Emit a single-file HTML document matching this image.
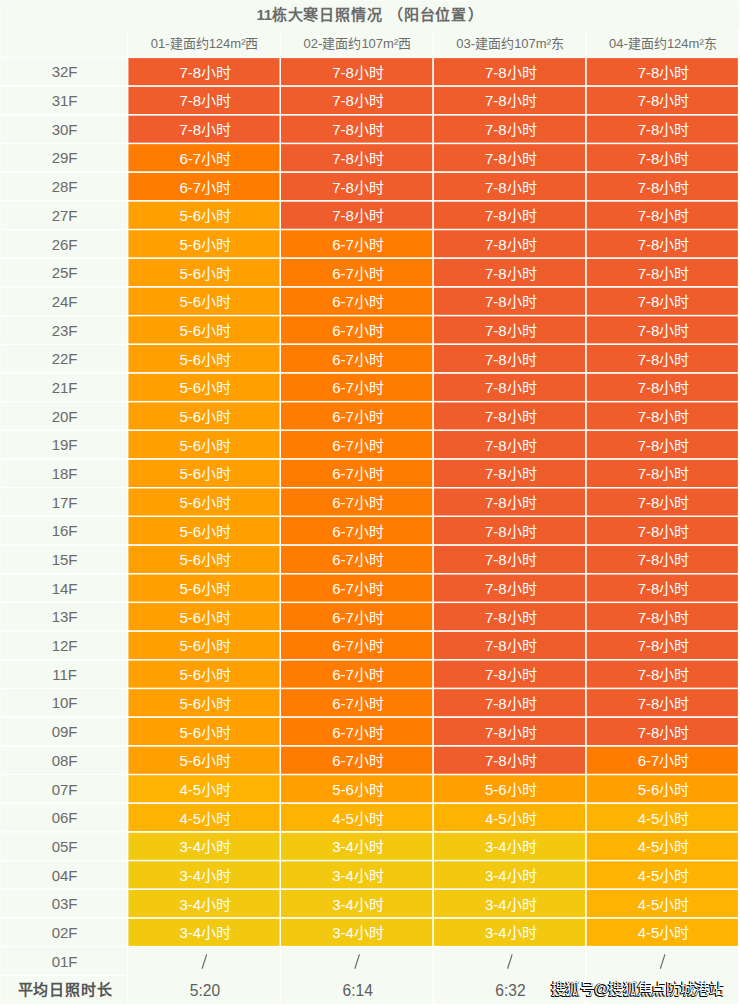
<!DOCTYPE html>
<html lang="zh-CN"><head><meta charset="utf-8"><style>
html,body{margin:0;padding:0;}
body{width:740px;height:1005px;position:relative;overflow:hidden;background:#f5faf2;font-family:"Liberation Sans",sans-serif;}
svg{position:absolute;left:0;top:0;}
div{position:absolute;text-align:center;white-space:nowrap;}
.ti{font-size:15px;font-weight:bold;color:#6a6a6a;letter-spacing:0.8px;}
.hd{font-size:13px;color:#6e6e6e;}
.lb{font-size:15px;color:#6a6a6a;}
.sl{font-size:20px;color:#666;}
.ag{font-size:15.6px;color:#5e5e5e;}
.dc{font-size:15px;color:#fff;}
.av{font-size:15px;font-weight:bold;color:#555;letter-spacing:0.8px;}
.wm{font-size:15px;color:#fff;text-shadow:-1px 1px 0 #000,-1px 0 0 #000,0 1px 0 #000;letter-spacing:-0.7px;}
</style></head><body>
<svg width="740" height="1005" viewBox="0 0 740 1005"><rect x="0" y="0" width="740" height="1005" fill="#f5faf2"/><rect x="128.25" y="58.05" width="151.45" height="27.38" fill="#f05d2d"/><rect x="281.00" y="58.05" width="151.45" height="27.38" fill="#f05d2d"/><rect x="433.75" y="58.05" width="151.45" height="27.38" fill="#f05d2d"/><rect x="586.50" y="58.05" width="151.45" height="27.38" fill="#f05d2d"/><rect x="128.25" y="86.73" width="151.45" height="27.38" fill="#f05d2d"/><rect x="281.00" y="86.73" width="151.45" height="27.38" fill="#f05d2d"/><rect x="433.75" y="86.73" width="151.45" height="27.38" fill="#f05d2d"/><rect x="586.50" y="86.73" width="151.45" height="27.38" fill="#f05d2d"/><rect x="128.25" y="115.42" width="151.45" height="27.38" fill="#f05d2d"/><rect x="281.00" y="115.42" width="151.45" height="27.38" fill="#f05d2d"/><rect x="433.75" y="115.42" width="151.45" height="27.38" fill="#f05d2d"/><rect x="586.50" y="115.42" width="151.45" height="27.38" fill="#f05d2d"/><rect x="128.25" y="144.10" width="151.45" height="27.38" fill="#ff7c00"/><rect x="281.00" y="144.10" width="151.45" height="27.38" fill="#f05d2d"/><rect x="433.75" y="144.10" width="151.45" height="27.38" fill="#f05d2d"/><rect x="586.50" y="144.10" width="151.45" height="27.38" fill="#f05d2d"/><rect x="128.25" y="172.79" width="151.45" height="27.38" fill="#ff7c00"/><rect x="281.00" y="172.79" width="151.45" height="27.38" fill="#f05d2d"/><rect x="433.75" y="172.79" width="151.45" height="27.38" fill="#f05d2d"/><rect x="586.50" y="172.79" width="151.45" height="27.38" fill="#f05d2d"/><rect x="128.25" y="201.47" width="151.45" height="27.38" fill="#ff9f00"/><rect x="281.00" y="201.47" width="151.45" height="27.38" fill="#f05d2d"/><rect x="433.75" y="201.47" width="151.45" height="27.38" fill="#f05d2d"/><rect x="586.50" y="201.47" width="151.45" height="27.38" fill="#f05d2d"/><rect x="128.25" y="230.15" width="151.45" height="27.38" fill="#ff9f00"/><rect x="281.00" y="230.15" width="151.45" height="27.38" fill="#ff7c00"/><rect x="433.75" y="230.15" width="151.45" height="27.38" fill="#f05d2d"/><rect x="586.50" y="230.15" width="151.45" height="27.38" fill="#f05d2d"/><rect x="128.25" y="258.84" width="151.45" height="27.38" fill="#ff9f00"/><rect x="281.00" y="258.84" width="151.45" height="27.38" fill="#ff7c00"/><rect x="433.75" y="258.84" width="151.45" height="27.38" fill="#f05d2d"/><rect x="586.50" y="258.84" width="151.45" height="27.38" fill="#f05d2d"/><rect x="128.25" y="287.52" width="151.45" height="27.38" fill="#ff9f00"/><rect x="281.00" y="287.52" width="151.45" height="27.38" fill="#ff7c00"/><rect x="433.75" y="287.52" width="151.45" height="27.38" fill="#f05d2d"/><rect x="586.50" y="287.52" width="151.45" height="27.38" fill="#f05d2d"/><rect x="128.25" y="316.21" width="151.45" height="27.38" fill="#ff9f00"/><rect x="281.00" y="316.21" width="151.45" height="27.38" fill="#ff7c00"/><rect x="433.75" y="316.21" width="151.45" height="27.38" fill="#f05d2d"/><rect x="586.50" y="316.21" width="151.45" height="27.38" fill="#f05d2d"/><rect x="128.25" y="344.89" width="151.45" height="27.38" fill="#ff9f00"/><rect x="281.00" y="344.89" width="151.45" height="27.38" fill="#ff7c00"/><rect x="433.75" y="344.89" width="151.45" height="27.38" fill="#f05d2d"/><rect x="586.50" y="344.89" width="151.45" height="27.38" fill="#f05d2d"/><rect x="128.25" y="373.57" width="151.45" height="27.38" fill="#ff9f00"/><rect x="281.00" y="373.57" width="151.45" height="27.38" fill="#ff7c00"/><rect x="433.75" y="373.57" width="151.45" height="27.38" fill="#f05d2d"/><rect x="586.50" y="373.57" width="151.45" height="27.38" fill="#f05d2d"/><rect x="128.25" y="402.26" width="151.45" height="27.38" fill="#ff9f00"/><rect x="281.00" y="402.26" width="151.45" height="27.38" fill="#ff7c00"/><rect x="433.75" y="402.26" width="151.45" height="27.38" fill="#f05d2d"/><rect x="586.50" y="402.26" width="151.45" height="27.38" fill="#f05d2d"/><rect x="128.25" y="430.94" width="151.45" height="27.38" fill="#ff9f00"/><rect x="281.00" y="430.94" width="151.45" height="27.38" fill="#ff7c00"/><rect x="433.75" y="430.94" width="151.45" height="27.38" fill="#f05d2d"/><rect x="586.50" y="430.94" width="151.45" height="27.38" fill="#f05d2d"/><rect x="128.25" y="459.63" width="151.45" height="27.38" fill="#ff9f00"/><rect x="281.00" y="459.63" width="151.45" height="27.38" fill="#ff7c00"/><rect x="433.75" y="459.63" width="151.45" height="27.38" fill="#f05d2d"/><rect x="586.50" y="459.63" width="151.45" height="27.38" fill="#f05d2d"/><rect x="128.25" y="488.31" width="151.45" height="27.38" fill="#ff9f00"/><rect x="281.00" y="488.31" width="151.45" height="27.38" fill="#ff7c00"/><rect x="433.75" y="488.31" width="151.45" height="27.38" fill="#f05d2d"/><rect x="586.50" y="488.31" width="151.45" height="27.38" fill="#f05d2d"/><rect x="128.25" y="516.99" width="151.45" height="27.38" fill="#ff9f00"/><rect x="281.00" y="516.99" width="151.45" height="27.38" fill="#ff7c00"/><rect x="433.75" y="516.99" width="151.45" height="27.38" fill="#f05d2d"/><rect x="586.50" y="516.99" width="151.45" height="27.38" fill="#f05d2d"/><rect x="128.25" y="545.68" width="151.45" height="27.38" fill="#ff9f00"/><rect x="281.00" y="545.68" width="151.45" height="27.38" fill="#ff7c00"/><rect x="433.75" y="545.68" width="151.45" height="27.38" fill="#f05d2d"/><rect x="586.50" y="545.68" width="151.45" height="27.38" fill="#f05d2d"/><rect x="128.25" y="574.36" width="151.45" height="27.38" fill="#ff9f00"/><rect x="281.00" y="574.36" width="151.45" height="27.38" fill="#ff7c00"/><rect x="433.75" y="574.36" width="151.45" height="27.38" fill="#f05d2d"/><rect x="586.50" y="574.36" width="151.45" height="27.38" fill="#f05d2d"/><rect x="128.25" y="603.05" width="151.45" height="27.38" fill="#ff9f00"/><rect x="281.00" y="603.05" width="151.45" height="27.38" fill="#ff7c00"/><rect x="433.75" y="603.05" width="151.45" height="27.38" fill="#f05d2d"/><rect x="586.50" y="603.05" width="151.45" height="27.38" fill="#f05d2d"/><rect x="128.25" y="631.73" width="151.45" height="27.38" fill="#ff9f00"/><rect x="281.00" y="631.73" width="151.45" height="27.38" fill="#ff7c00"/><rect x="433.75" y="631.73" width="151.45" height="27.38" fill="#f05d2d"/><rect x="586.50" y="631.73" width="151.45" height="27.38" fill="#f05d2d"/><rect x="128.25" y="660.41" width="151.45" height="27.38" fill="#ff9f00"/><rect x="281.00" y="660.41" width="151.45" height="27.38" fill="#ff7c00"/><rect x="433.75" y="660.41" width="151.45" height="27.38" fill="#f05d2d"/><rect x="586.50" y="660.41" width="151.45" height="27.38" fill="#f05d2d"/><rect x="128.25" y="689.10" width="151.45" height="27.38" fill="#ff9f00"/><rect x="281.00" y="689.10" width="151.45" height="27.38" fill="#ff7c00"/><rect x="433.75" y="689.10" width="151.45" height="27.38" fill="#f05d2d"/><rect x="586.50" y="689.10" width="151.45" height="27.38" fill="#f05d2d"/><rect x="128.25" y="717.78" width="151.45" height="27.38" fill="#ff9f00"/><rect x="281.00" y="717.78" width="151.45" height="27.38" fill="#ff7c00"/><rect x="433.75" y="717.78" width="151.45" height="27.38" fill="#f05d2d"/><rect x="586.50" y="717.78" width="151.45" height="27.38" fill="#f05d2d"/><rect x="128.25" y="746.47" width="151.45" height="27.38" fill="#ff9f00"/><rect x="281.00" y="746.47" width="151.45" height="27.38" fill="#ff7c00"/><rect x="433.75" y="746.47" width="151.45" height="27.38" fill="#f05d2d"/><rect x="586.50" y="746.47" width="151.45" height="27.38" fill="#ff7c00"/><rect x="128.25" y="775.15" width="151.45" height="27.38" fill="#feb300"/><rect x="281.00" y="775.15" width="151.45" height="27.38" fill="#ff9f00"/><rect x="433.75" y="775.15" width="151.45" height="27.38" fill="#ff9f00"/><rect x="586.50" y="775.15" width="151.45" height="27.38" fill="#ff9f00"/><rect x="128.25" y="803.83" width="151.45" height="27.38" fill="#feb300"/><rect x="281.00" y="803.83" width="151.45" height="27.38" fill="#feb300"/><rect x="433.75" y="803.83" width="151.45" height="27.38" fill="#feb300"/><rect x="586.50" y="803.83" width="151.45" height="27.38" fill="#feb300"/><rect x="128.25" y="832.52" width="151.45" height="27.38" fill="#f2c910"/><rect x="281.00" y="832.52" width="151.45" height="27.38" fill="#f2c910"/><rect x="433.75" y="832.52" width="151.45" height="27.38" fill="#f2c910"/><rect x="586.50" y="832.52" width="151.45" height="27.38" fill="#feb300"/><rect x="128.25" y="861.20" width="151.45" height="27.38" fill="#f2c910"/><rect x="281.00" y="861.20" width="151.45" height="27.38" fill="#f2c910"/><rect x="433.75" y="861.20" width="151.45" height="27.38" fill="#f2c910"/><rect x="586.50" y="861.20" width="151.45" height="27.38" fill="#feb300"/><rect x="128.25" y="889.89" width="151.45" height="27.38" fill="#f2c910"/><rect x="281.00" y="889.89" width="151.45" height="27.38" fill="#f2c910"/><rect x="433.75" y="889.89" width="151.45" height="27.38" fill="#f2c910"/><rect x="586.50" y="889.89" width="151.45" height="27.38" fill="#feb300"/><rect x="128.25" y="918.57" width="151.45" height="27.38" fill="#f2c910"/><rect x="281.00" y="918.57" width="151.45" height="27.38" fill="#f2c910"/><rect x="433.75" y="918.57" width="151.45" height="27.38" fill="#f2c910"/><rect x="586.50" y="918.57" width="151.45" height="27.38" fill="#feb300"/><rect x="0" y="56.75" width="740" height="1.3" fill="#ffffff"/><rect x="0" y="85.43" width="740" height="1.3" fill="#ffffff"/><rect x="0" y="114.12" width="740" height="1.3" fill="#ffffff"/><rect x="0" y="142.80" width="740" height="1.3" fill="#ffffff"/><rect x="0" y="171.49" width="740" height="1.3" fill="#ffffff"/><rect x="0" y="200.17" width="740" height="1.3" fill="#ffffff"/><rect x="0" y="228.85" width="740" height="1.3" fill="#ffffff"/><rect x="0" y="257.54" width="740" height="1.3" fill="#ffffff"/><rect x="0" y="286.22" width="740" height="1.3" fill="#ffffff"/><rect x="0" y="314.91" width="740" height="1.3" fill="#ffffff"/><rect x="0" y="343.59" width="740" height="1.3" fill="#ffffff"/><rect x="0" y="372.27" width="740" height="1.3" fill="#ffffff"/><rect x="0" y="400.96" width="740" height="1.3" fill="#ffffff"/><rect x="0" y="429.64" width="740" height="1.3" fill="#ffffff"/><rect x="0" y="458.33" width="740" height="1.3" fill="#ffffff"/><rect x="0" y="487.01" width="740" height="1.3" fill="#ffffff"/><rect x="0" y="515.69" width="740" height="1.3" fill="#ffffff"/><rect x="0" y="544.38" width="740" height="1.3" fill="#ffffff"/><rect x="0" y="573.06" width="740" height="1.3" fill="#ffffff"/><rect x="0" y="601.75" width="740" height="1.3" fill="#ffffff"/><rect x="0" y="630.43" width="740" height="1.3" fill="#ffffff"/><rect x="0" y="659.11" width="740" height="1.3" fill="#ffffff"/><rect x="0" y="687.80" width="740" height="1.3" fill="#ffffff"/><rect x="0" y="716.48" width="740" height="1.3" fill="#ffffff"/><rect x="0" y="745.17" width="740" height="1.3" fill="#ffffff"/><rect x="0" y="773.85" width="740" height="1.3" fill="#ffffff"/><rect x="0" y="802.53" width="740" height="1.3" fill="#ffffff"/><rect x="0" y="831.22" width="740" height="1.3" fill="#ffffff"/><rect x="0" y="859.90" width="740" height="1.3" fill="#ffffff"/><rect x="0" y="888.59" width="740" height="1.3" fill="#ffffff"/><rect x="0" y="917.27" width="740" height="1.3" fill="#ffffff"/><rect x="0" y="945.95" width="740" height="1.3" fill="#ffffff"/><rect x="0" y="974.64" width="127.60" height="1.3" fill="#ffffff"/><rect x="737.95" y="28.8" width="3" height="980" fill="#ffffff"/><rect x="738.6" y="0" width="2" height="29" fill="#fbfdfa"/><rect x="0" y="0" width="0.8" height="1005" fill="#fbfdfa"/><rect x="0" y="0" width="740" height="0.8" fill="#fbfdfa"/><rect x="0" y="1003.6" width="740" height="1.3" fill="#ffffff"/><rect x="126.95" y="28.8" width="1.3" height="976.20" fill="#ffffff"/><rect x="279.70" y="28.8" width="1.3" height="976.20" fill="#ffffff"/><rect x="432.45" y="28.8" width="1.3" height="976.20" fill="#ffffff"/><rect x="585.20" y="28.8" width="1.3" height="976.20" fill="#ffffff"/><rect x="737.95" y="28.8" width="1.3" height="976.20" fill="#ffffff"/><line x1="206.68" y1="954.4" x2="202.08" y2="968.7" stroke="#666" stroke-width="1.15"/><line x1="359.43" y1="954.4" x2="354.82" y2="968.7" stroke="#666" stroke-width="1.15"/><line x1="512.17" y1="954.4" x2="507.57" y2="968.7" stroke="#666" stroke-width="1.15"/><line x1="664.92" y1="954.4" x2="660.33" y2="968.7" stroke="#666" stroke-width="1.15"/></svg>
<div class="ti" style="left:0.40px;top:0.90px;width:740.00px;height:28.80px;line-height:28.80px"><span style="letter-spacing:-0.3px">11</span>栋大寒日照情况<span style="letter-spacing:1.4px"> </span>（阳台位<span style="letter-spacing:2.2px">置</span>）</div><div class="hd" style="left:128.30px;top:29.50px;width:152.75px;height:28.60px;line-height:28.60px">01-建面约124m²西</div><div class="hd" style="left:281.05px;top:29.50px;width:152.75px;height:28.60px;line-height:28.60px">02-建面约107m²西</div><div class="hd" style="left:433.80px;top:29.50px;width:152.75px;height:28.60px;line-height:28.60px">03-建面约107m²东</div><div class="hd" style="left:586.55px;top:29.50px;width:152.75px;height:28.60px;line-height:28.60px">04-建面约124m²东</div><div class="lb" style="left:0.80px;top:58.40px;width:127.60px;height:28.68px;line-height:28.68px">32F</div><div class="dc" style="left:128.90px;top:58.80px;width:152.75px;height:28.68px;line-height:28.68px">7-8小时</div><div class="dc" style="left:281.65px;top:58.80px;width:152.75px;height:28.68px;line-height:28.68px">7-8小时</div><div class="dc" style="left:434.40px;top:58.80px;width:152.75px;height:28.68px;line-height:28.68px">7-8小时</div><div class="dc" style="left:587.15px;top:58.80px;width:152.75px;height:28.68px;line-height:28.68px">7-8小时</div><div class="lb" style="left:0.80px;top:87.08px;width:127.60px;height:28.68px;line-height:28.68px">31F</div><div class="dc" style="left:128.90px;top:87.48px;width:152.75px;height:28.68px;line-height:28.68px">7-8小时</div><div class="dc" style="left:281.65px;top:87.48px;width:152.75px;height:28.68px;line-height:28.68px">7-8小时</div><div class="dc" style="left:434.40px;top:87.48px;width:152.75px;height:28.68px;line-height:28.68px">7-8小时</div><div class="dc" style="left:587.15px;top:87.48px;width:152.75px;height:28.68px;line-height:28.68px">7-8小时</div><div class="lb" style="left:0.80px;top:115.77px;width:127.60px;height:28.68px;line-height:28.68px">30F</div><div class="dc" style="left:128.90px;top:116.17px;width:152.75px;height:28.68px;line-height:28.68px">7-8小时</div><div class="dc" style="left:281.65px;top:116.17px;width:152.75px;height:28.68px;line-height:28.68px">7-8小时</div><div class="dc" style="left:434.40px;top:116.17px;width:152.75px;height:28.68px;line-height:28.68px">7-8小时</div><div class="dc" style="left:587.15px;top:116.17px;width:152.75px;height:28.68px;line-height:28.68px">7-8小时</div><div class="lb" style="left:0.80px;top:144.45px;width:127.60px;height:28.68px;line-height:28.68px">29F</div><div class="dc" style="left:128.90px;top:144.85px;width:152.75px;height:28.68px;line-height:28.68px">6-7小时</div><div class="dc" style="left:281.65px;top:144.85px;width:152.75px;height:28.68px;line-height:28.68px">7-8小时</div><div class="dc" style="left:434.40px;top:144.85px;width:152.75px;height:28.68px;line-height:28.68px">7-8小时</div><div class="dc" style="left:587.15px;top:144.85px;width:152.75px;height:28.68px;line-height:28.68px">7-8小时</div><div class="lb" style="left:0.80px;top:173.14px;width:127.60px;height:28.68px;line-height:28.68px">28F</div><div class="dc" style="left:128.90px;top:173.54px;width:152.75px;height:28.68px;line-height:28.68px">6-7小时</div><div class="dc" style="left:281.65px;top:173.54px;width:152.75px;height:28.68px;line-height:28.68px">7-8小时</div><div class="dc" style="left:434.40px;top:173.54px;width:152.75px;height:28.68px;line-height:28.68px">7-8小时</div><div class="dc" style="left:587.15px;top:173.54px;width:152.75px;height:28.68px;line-height:28.68px">7-8小时</div><div class="lb" style="left:0.80px;top:201.82px;width:127.60px;height:28.68px;line-height:28.68px">27F</div><div class="dc" style="left:128.90px;top:202.22px;width:152.75px;height:28.68px;line-height:28.68px">5-6小时</div><div class="dc" style="left:281.65px;top:202.22px;width:152.75px;height:28.68px;line-height:28.68px">7-8小时</div><div class="dc" style="left:434.40px;top:202.22px;width:152.75px;height:28.68px;line-height:28.68px">7-8小时</div><div class="dc" style="left:587.15px;top:202.22px;width:152.75px;height:28.68px;line-height:28.68px">7-8小时</div><div class="lb" style="left:0.80px;top:230.50px;width:127.60px;height:28.68px;line-height:28.68px">26F</div><div class="dc" style="left:128.90px;top:230.90px;width:152.75px;height:28.68px;line-height:28.68px">5-6小时</div><div class="dc" style="left:281.65px;top:230.90px;width:152.75px;height:28.68px;line-height:28.68px">6-7小时</div><div class="dc" style="left:434.40px;top:230.90px;width:152.75px;height:28.68px;line-height:28.68px">7-8小时</div><div class="dc" style="left:587.15px;top:230.90px;width:152.75px;height:28.68px;line-height:28.68px">7-8小时</div><div class="lb" style="left:0.80px;top:259.19px;width:127.60px;height:28.68px;line-height:28.68px">25F</div><div class="dc" style="left:128.90px;top:259.59px;width:152.75px;height:28.68px;line-height:28.68px">5-6小时</div><div class="dc" style="left:281.65px;top:259.59px;width:152.75px;height:28.68px;line-height:28.68px">6-7小时</div><div class="dc" style="left:434.40px;top:259.59px;width:152.75px;height:28.68px;line-height:28.68px">7-8小时</div><div class="dc" style="left:587.15px;top:259.59px;width:152.75px;height:28.68px;line-height:28.68px">7-8小时</div><div class="lb" style="left:0.80px;top:287.87px;width:127.60px;height:28.68px;line-height:28.68px">24F</div><div class="dc" style="left:128.90px;top:288.27px;width:152.75px;height:28.68px;line-height:28.68px">5-6小时</div><div class="dc" style="left:281.65px;top:288.27px;width:152.75px;height:28.68px;line-height:28.68px">6-7小时</div><div class="dc" style="left:434.40px;top:288.27px;width:152.75px;height:28.68px;line-height:28.68px">7-8小时</div><div class="dc" style="left:587.15px;top:288.27px;width:152.75px;height:28.68px;line-height:28.68px">7-8小时</div><div class="lb" style="left:0.80px;top:316.56px;width:127.60px;height:28.68px;line-height:28.68px">23F</div><div class="dc" style="left:128.90px;top:316.96px;width:152.75px;height:28.68px;line-height:28.68px">5-6小时</div><div class="dc" style="left:281.65px;top:316.96px;width:152.75px;height:28.68px;line-height:28.68px">6-7小时</div><div class="dc" style="left:434.40px;top:316.96px;width:152.75px;height:28.68px;line-height:28.68px">7-8小时</div><div class="dc" style="left:587.15px;top:316.96px;width:152.75px;height:28.68px;line-height:28.68px">7-8小时</div><div class="lb" style="left:0.80px;top:345.24px;width:127.60px;height:28.68px;line-height:28.68px">22F</div><div class="dc" style="left:128.90px;top:345.64px;width:152.75px;height:28.68px;line-height:28.68px">5-6小时</div><div class="dc" style="left:281.65px;top:345.64px;width:152.75px;height:28.68px;line-height:28.68px">6-7小时</div><div class="dc" style="left:434.40px;top:345.64px;width:152.75px;height:28.68px;line-height:28.68px">7-8小时</div><div class="dc" style="left:587.15px;top:345.64px;width:152.75px;height:28.68px;line-height:28.68px">7-8小时</div><div class="lb" style="left:0.80px;top:373.92px;width:127.60px;height:28.68px;line-height:28.68px">21F</div><div class="dc" style="left:128.90px;top:374.32px;width:152.75px;height:28.68px;line-height:28.68px">5-6小时</div><div class="dc" style="left:281.65px;top:374.32px;width:152.75px;height:28.68px;line-height:28.68px">6-7小时</div><div class="dc" style="left:434.40px;top:374.32px;width:152.75px;height:28.68px;line-height:28.68px">7-8小时</div><div class="dc" style="left:587.15px;top:374.32px;width:152.75px;height:28.68px;line-height:28.68px">7-8小时</div><div class="lb" style="left:0.80px;top:402.61px;width:127.60px;height:28.68px;line-height:28.68px">20F</div><div class="dc" style="left:128.90px;top:403.01px;width:152.75px;height:28.68px;line-height:28.68px">5-6小时</div><div class="dc" style="left:281.65px;top:403.01px;width:152.75px;height:28.68px;line-height:28.68px">6-7小时</div><div class="dc" style="left:434.40px;top:403.01px;width:152.75px;height:28.68px;line-height:28.68px">7-8小时</div><div class="dc" style="left:587.15px;top:403.01px;width:152.75px;height:28.68px;line-height:28.68px">7-8小时</div><div class="lb" style="left:0.80px;top:431.29px;width:127.60px;height:28.68px;line-height:28.68px">19F</div><div class="dc" style="left:128.90px;top:431.69px;width:152.75px;height:28.68px;line-height:28.68px">5-6小时</div><div class="dc" style="left:281.65px;top:431.69px;width:152.75px;height:28.68px;line-height:28.68px">6-7小时</div><div class="dc" style="left:434.40px;top:431.69px;width:152.75px;height:28.68px;line-height:28.68px">7-8小时</div><div class="dc" style="left:587.15px;top:431.69px;width:152.75px;height:28.68px;line-height:28.68px">7-8小时</div><div class="lb" style="left:0.80px;top:459.98px;width:127.60px;height:28.68px;line-height:28.68px">18F</div><div class="dc" style="left:128.90px;top:460.38px;width:152.75px;height:28.68px;line-height:28.68px">5-6小时</div><div class="dc" style="left:281.65px;top:460.38px;width:152.75px;height:28.68px;line-height:28.68px">6-7小时</div><div class="dc" style="left:434.40px;top:460.38px;width:152.75px;height:28.68px;line-height:28.68px">7-8小时</div><div class="dc" style="left:587.15px;top:460.38px;width:152.75px;height:28.68px;line-height:28.68px">7-8小时</div><div class="lb" style="left:0.80px;top:488.66px;width:127.60px;height:28.68px;line-height:28.68px">17F</div><div class="dc" style="left:128.90px;top:489.06px;width:152.75px;height:28.68px;line-height:28.68px">5-6小时</div><div class="dc" style="left:281.65px;top:489.06px;width:152.75px;height:28.68px;line-height:28.68px">6-7小时</div><div class="dc" style="left:434.40px;top:489.06px;width:152.75px;height:28.68px;line-height:28.68px">7-8小时</div><div class="dc" style="left:587.15px;top:489.06px;width:152.75px;height:28.68px;line-height:28.68px">7-8小时</div><div class="lb" style="left:0.80px;top:517.34px;width:127.60px;height:28.68px;line-height:28.68px">16F</div><div class="dc" style="left:128.90px;top:517.74px;width:152.75px;height:28.68px;line-height:28.68px">5-6小时</div><div class="dc" style="left:281.65px;top:517.74px;width:152.75px;height:28.68px;line-height:28.68px">6-7小时</div><div class="dc" style="left:434.40px;top:517.74px;width:152.75px;height:28.68px;line-height:28.68px">7-8小时</div><div class="dc" style="left:587.15px;top:517.74px;width:152.75px;height:28.68px;line-height:28.68px">7-8小时</div><div class="lb" style="left:0.80px;top:546.03px;width:127.60px;height:28.68px;line-height:28.68px">15F</div><div class="dc" style="left:128.90px;top:546.43px;width:152.75px;height:28.68px;line-height:28.68px">5-6小时</div><div class="dc" style="left:281.65px;top:546.43px;width:152.75px;height:28.68px;line-height:28.68px">6-7小时</div><div class="dc" style="left:434.40px;top:546.43px;width:152.75px;height:28.68px;line-height:28.68px">7-8小时</div><div class="dc" style="left:587.15px;top:546.43px;width:152.75px;height:28.68px;line-height:28.68px">7-8小时</div><div class="lb" style="left:0.80px;top:574.71px;width:127.60px;height:28.68px;line-height:28.68px">14F</div><div class="dc" style="left:128.90px;top:575.11px;width:152.75px;height:28.68px;line-height:28.68px">5-6小时</div><div class="dc" style="left:281.65px;top:575.11px;width:152.75px;height:28.68px;line-height:28.68px">6-7小时</div><div class="dc" style="left:434.40px;top:575.11px;width:152.75px;height:28.68px;line-height:28.68px">7-8小时</div><div class="dc" style="left:587.15px;top:575.11px;width:152.75px;height:28.68px;line-height:28.68px">7-8小时</div><div class="lb" style="left:0.80px;top:603.40px;width:127.60px;height:28.68px;line-height:28.68px">13F</div><div class="dc" style="left:128.90px;top:603.80px;width:152.75px;height:28.68px;line-height:28.68px">5-6小时</div><div class="dc" style="left:281.65px;top:603.80px;width:152.75px;height:28.68px;line-height:28.68px">6-7小时</div><div class="dc" style="left:434.40px;top:603.80px;width:152.75px;height:28.68px;line-height:28.68px">7-8小时</div><div class="dc" style="left:587.15px;top:603.80px;width:152.75px;height:28.68px;line-height:28.68px">7-8小时</div><div class="lb" style="left:0.80px;top:632.08px;width:127.60px;height:28.68px;line-height:28.68px">12F</div><div class="dc" style="left:128.90px;top:632.48px;width:152.75px;height:28.68px;line-height:28.68px">5-6小时</div><div class="dc" style="left:281.65px;top:632.48px;width:152.75px;height:28.68px;line-height:28.68px">6-7小时</div><div class="dc" style="left:434.40px;top:632.48px;width:152.75px;height:28.68px;line-height:28.68px">7-8小时</div><div class="dc" style="left:587.15px;top:632.48px;width:152.75px;height:28.68px;line-height:28.68px">7-8小时</div><div class="lb" style="left:0.80px;top:660.76px;width:127.60px;height:28.68px;line-height:28.68px">11F</div><div class="dc" style="left:128.90px;top:661.16px;width:152.75px;height:28.68px;line-height:28.68px">5-6小时</div><div class="dc" style="left:281.65px;top:661.16px;width:152.75px;height:28.68px;line-height:28.68px">6-7小时</div><div class="dc" style="left:434.40px;top:661.16px;width:152.75px;height:28.68px;line-height:28.68px">7-8小时</div><div class="dc" style="left:587.15px;top:661.16px;width:152.75px;height:28.68px;line-height:28.68px">7-8小时</div><div class="lb" style="left:0.80px;top:689.45px;width:127.60px;height:28.68px;line-height:28.68px">10F</div><div class="dc" style="left:128.90px;top:689.85px;width:152.75px;height:28.68px;line-height:28.68px">5-6小时</div><div class="dc" style="left:281.65px;top:689.85px;width:152.75px;height:28.68px;line-height:28.68px">6-7小时</div><div class="dc" style="left:434.40px;top:689.85px;width:152.75px;height:28.68px;line-height:28.68px">7-8小时</div><div class="dc" style="left:587.15px;top:689.85px;width:152.75px;height:28.68px;line-height:28.68px">7-8小时</div><div class="lb" style="left:0.80px;top:718.13px;width:127.60px;height:28.68px;line-height:28.68px">09F</div><div class="dc" style="left:128.90px;top:718.53px;width:152.75px;height:28.68px;line-height:28.68px">5-6小时</div><div class="dc" style="left:281.65px;top:718.53px;width:152.75px;height:28.68px;line-height:28.68px">6-7小时</div><div class="dc" style="left:434.40px;top:718.53px;width:152.75px;height:28.68px;line-height:28.68px">7-8小时</div><div class="dc" style="left:587.15px;top:718.53px;width:152.75px;height:28.68px;line-height:28.68px">7-8小时</div><div class="lb" style="left:0.80px;top:746.82px;width:127.60px;height:28.68px;line-height:28.68px">08F</div><div class="dc" style="left:128.90px;top:747.22px;width:152.75px;height:28.68px;line-height:28.68px">5-6小时</div><div class="dc" style="left:281.65px;top:747.22px;width:152.75px;height:28.68px;line-height:28.68px">6-7小时</div><div class="dc" style="left:434.40px;top:747.22px;width:152.75px;height:28.68px;line-height:28.68px">7-8小时</div><div class="dc" style="left:587.15px;top:747.22px;width:152.75px;height:28.68px;line-height:28.68px">6-7小时</div><div class="lb" style="left:0.80px;top:775.50px;width:127.60px;height:28.68px;line-height:28.68px">07F</div><div class="dc" style="left:128.90px;top:775.90px;width:152.75px;height:28.68px;line-height:28.68px">4-5小时</div><div class="dc" style="left:281.65px;top:775.90px;width:152.75px;height:28.68px;line-height:28.68px">5-6小时</div><div class="dc" style="left:434.40px;top:775.90px;width:152.75px;height:28.68px;line-height:28.68px">5-6小时</div><div class="dc" style="left:587.15px;top:775.90px;width:152.75px;height:28.68px;line-height:28.68px">5-6小时</div><div class="lb" style="left:0.80px;top:804.18px;width:127.60px;height:28.68px;line-height:28.68px">06F</div><div class="dc" style="left:128.90px;top:804.58px;width:152.75px;height:28.68px;line-height:28.68px">4-5小时</div><div class="dc" style="left:281.65px;top:804.58px;width:152.75px;height:28.68px;line-height:28.68px">4-5小时</div><div class="dc" style="left:434.40px;top:804.58px;width:152.75px;height:28.68px;line-height:28.68px">4-5小时</div><div class="dc" style="left:587.15px;top:804.58px;width:152.75px;height:28.68px;line-height:28.68px">4-5小时</div><div class="lb" style="left:0.80px;top:832.87px;width:127.60px;height:28.68px;line-height:28.68px">05F</div><div class="dc" style="left:128.90px;top:833.27px;width:152.75px;height:28.68px;line-height:28.68px">3-4小时</div><div class="dc" style="left:281.65px;top:833.27px;width:152.75px;height:28.68px;line-height:28.68px">3-4小时</div><div class="dc" style="left:434.40px;top:833.27px;width:152.75px;height:28.68px;line-height:28.68px">3-4小时</div><div class="dc" style="left:587.15px;top:833.27px;width:152.75px;height:28.68px;line-height:28.68px">4-5小时</div><div class="lb" style="left:0.80px;top:861.55px;width:127.60px;height:28.68px;line-height:28.68px">04F</div><div class="dc" style="left:128.90px;top:861.95px;width:152.75px;height:28.68px;line-height:28.68px">3-4小时</div><div class="dc" style="left:281.65px;top:861.95px;width:152.75px;height:28.68px;line-height:28.68px">3-4小时</div><div class="dc" style="left:434.40px;top:861.95px;width:152.75px;height:28.68px;line-height:28.68px">3-4小时</div><div class="dc" style="left:587.15px;top:861.95px;width:152.75px;height:28.68px;line-height:28.68px">4-5小时</div><div class="lb" style="left:0.80px;top:890.24px;width:127.60px;height:28.68px;line-height:28.68px">03F</div><div class="dc" style="left:128.90px;top:890.64px;width:152.75px;height:28.68px;line-height:28.68px">3-4小时</div><div class="dc" style="left:281.65px;top:890.64px;width:152.75px;height:28.68px;line-height:28.68px">3-4小时</div><div class="dc" style="left:434.40px;top:890.64px;width:152.75px;height:28.68px;line-height:28.68px">3-4小时</div><div class="dc" style="left:587.15px;top:890.64px;width:152.75px;height:28.68px;line-height:28.68px">4-5小时</div><div class="lb" style="left:0.80px;top:918.92px;width:127.60px;height:28.68px;line-height:28.68px">02F</div><div class="dc" style="left:128.90px;top:919.32px;width:152.75px;height:28.68px;line-height:28.68px">3-4小时</div><div class="dc" style="left:281.65px;top:919.32px;width:152.75px;height:28.68px;line-height:28.68px">3-4小时</div><div class="dc" style="left:434.40px;top:919.32px;width:152.75px;height:28.68px;line-height:28.68px">3-4小时</div><div class="dc" style="left:587.15px;top:919.32px;width:152.75px;height:28.68px;line-height:28.68px">4-5小时</div><div class="lb" style="left:0.80px;top:947.60px;width:127.60px;height:28.68px;line-height:28.68px">01F</div><div class="av" style="left:1.20px;top:975.89px;width:127.60px;height:28.71px;line-height:28.71px">平均日照时长</div><div class="ag" style="left:128.60px;top:976.59px;width:152.75px;height:28.71px;line-height:28.71px">5:20</div><div class="ag" style="left:281.35px;top:976.59px;width:152.75px;height:28.71px;line-height:28.71px">6:14</div><div class="ag" style="left:434.10px;top:976.59px;width:152.75px;height:28.71px;line-height:28.71px">6:32</div>
<div class="wm" style="left:551px;top:977.3px;text-align:left;">搜狐号@搜狐焦点防城港站</div>
</body></html>
